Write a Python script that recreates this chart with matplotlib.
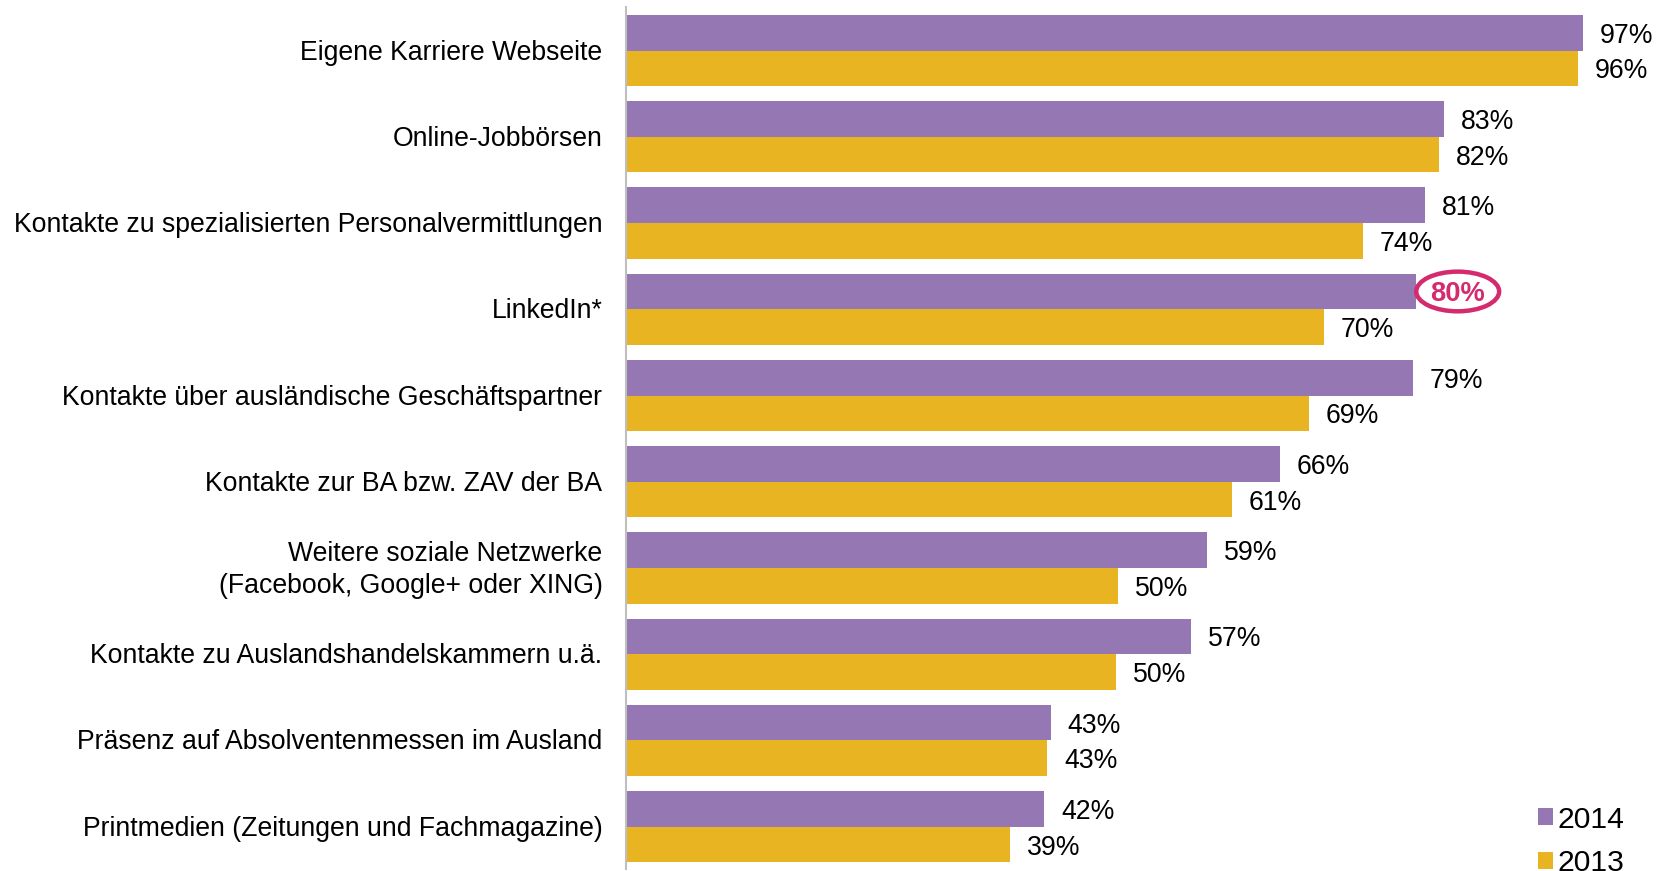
import matplotlib
matplotlib.use("Agg")
import matplotlib.pyplot as plt
import numpy as np
from matplotlib.patches import Ellipse, Patch
from matplotlib.transforms import ScaledTranslation

plt.rcParams['font.family'] = ['Liberation Sans', 'DejaVu Sans']

categories = [
    "Eigene Karriere Webseite",
    "Online-Jobbörsen",
    "Kontakte zu spezialisierten Personalvermittlungen",
    "LinkedIn*",
    "Kontakte über ausländische Geschäftspartner",
    "Kontakte zur BA bzw. ZAV der BA",
    "Weitere soziale Netzwerke\n(Facebook, Google+ oder XING)",
    "Kontakte zu Auslandshandelskammern u.ä.",
    "Präsenz auf Absolventenmessen im Ausland",
    "Printmedien (Zeitungen und Fachmagazine)",
]
# bar lengths
values_2014 = [97.0, 82.9, 81.0, 80.1, 79.8, 66.3, 58.9, 57.3, 43.05, 42.4]
values_2013 = [96.5, 82.4, 74.7, 70.75, 69.2, 61.4, 49.9, 49.7, 42.7, 38.9]
# printed labels
labels_2014 = [97, 83, 81, 80, 79, 66, 59, 57, 43, 42]
labels_2013 = [96, 82, 74, 70, 69, 61, 50, 50, 43, 39]
series_labels = ["2014", "2013"]
highlight_index = 3

purple = "#9477B3"
yellow = "#E9B421"
pink = "#D42A6E"

fig = plt.figure(figsize=(16.68, 8.71), dpi=100)
W, H = 1668, 871
ax_left, ax_top, ax_bottom = 626, 7, 869
ax_right = 1662
ax = fig.add_axes([ax_left / W, 1 - ax_bottom / H, (ax_right - ax_left) / W, (ax_bottom - ax_top) / H])

y = np.arange(len(categories))
h = 0.413
ax.barh(y - h / 2, values_2014, height=h, color=purple, label=series_labels[0])
ax.barh(y + h / 2, values_2013, height=h, color=yellow, label=series_labels[1])

ax.set_xlim(0, (ax_right - ax_left) / 9.866)
ax.set_ylim(9.49, -0.505)

ax.set_yticks(y)
ax.set_yticklabels(categories, fontsize=19.2, linespacing=1.27, va="center")
ax.tick_params(axis='y', length=0, pad=17)
shift = ScaledTranslation(0, -2 / 100, fig.dpi_scale_trans)
for lab in ax.get_yticklabels():
    lab.set_transform(lab.get_transform() + shift)
ax.set_xticks([])
for s in ["top", "right", "bottom"]:
    ax.spines[s].set_visible(False)
ax.spines["left"].set_color("#BFBFBF")
ax.spines["left"].set_linewidth(1.5)

fs = 19.2
for i in range(len(categories)):
    v14, v13 = values_2014[i], values_2013[i]
    l14, l13 = labels_2014[i], labels_2013[i]
    if i == highlight_index:
        ax.text(v14 + 4.2, i - h / 2, f"{l14}%", fontsize=fs + 0.4, fontweight="bold",
                color=pink, ha="center", va="center_baseline")
        ax.add_patch(Ellipse((v14 + 4.2, i - h / 2), 8.4, 0.46, fill=False,
                             edgecolor=pink, linewidth=3.2, clip_on=False))
    else:
        ax.annotate(f"{l14}%", (v14, i - h / 2), xytext=(12, 0), textcoords="offset points",
                    fontsize=fs, ha="left", va="center_baseline")
    ax.annotate(f"{l13}%", (v13, i + h / 2), xytext=(12, 0), textcoords="offset points",
                fontsize=fs, ha="left", va="center_baseline")

handles = [Patch(facecolor=purple, label=series_labels[0]),
           Patch(facecolor=yellow, label=series_labels[1])]
fig.legend(handles=handles, loc="upper left", bbox_to_anchor=(1538 / W, 1 - 805.5 / H),
           frameon=False, fontsize=21.7, handlelength=0.5, handleheight=0.5,
           handletextpad=0.15, labelspacing=0.52, borderaxespad=0, borderpad=0)

fig.savefig("out.png", dpi=100)
